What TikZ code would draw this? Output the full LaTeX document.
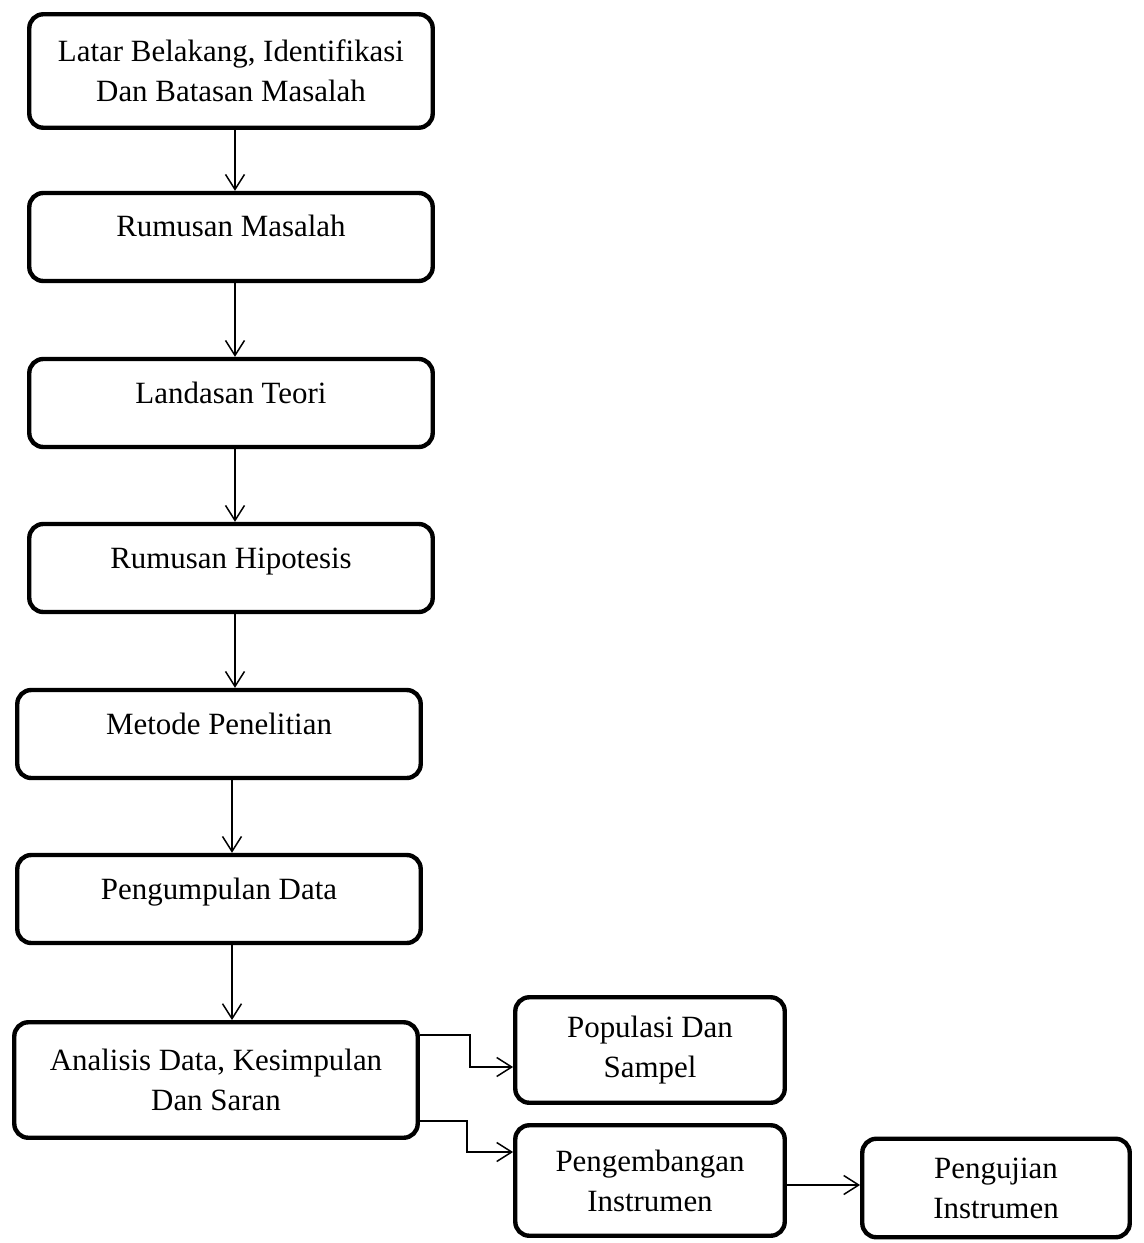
\documentclass[tikz,border=0pt]{standalone}
\usepackage{fontspec}
\setmainfont{Liberation Serif}
\usetikzlibrary{arrows.meta}

\begin{document}
\begin{tikzpicture}[x=0.02cm,y=-0.02cm]
\tikzstyle{every node}+=[inner sep=0pt, font=\fontsize{17.6}{22.7}\selectfont]
\tikzstyle{blok}=[draw, black, line width=2.5pt, rounded corners=0.28cm, align=center, minimum width=8.07cm]
\tikzstyle{blok1}=[blok, text height=0.88cm, text depth=0.88cm]
\tikzstyle{kecil}=[blok, minimum width=5.39cm]
\tikzstyle{arr}=[black, line width=0.85pt, -{Straight Barb[length=0.3cm,width=0.38cm]}]
\useasboundingbox (0,0) rectangle (1143,1243);
\node [blok, minimum height=2.27cm] (lbm) at (231,71) {Latar Belakang, Identifikasi\\Dan Batasan Masalah};
\node [blok1] (rm) at (231,237) {Rumusan Masalah};
\node [blok1] (lt) at (231,403) {Landasan Teori};
\node [blok1] (rh) at (231,568) {Rumusan Hipotesis};
\node [blok1] (mp) at (219,734) {Metode Penelitian};
\node [blok1] (pd) at (219,899) {Pengumpulan Data};
\node [blok, minimum height=2.31cm] (ad) at (216,1080) {Analisis Data, Kesimpulan\\Dan Saran};
\node [kecil, minimum height=2.11cm] (ps) at (650,1050) {Populasi Dan\\Sampel};
\node [kecil, minimum height=2.21cm] (pi) at (650,1180.5) {Pengembangan\\Instrumen};
\node [kecil, minimum width=5.35cm, minimum height=1.97cm] (uji) at (996,1188) {Pengujian\\Instrumen};
\draw [arr] ([xshift=0.08cm]lbm.south) -- ([xshift=0.08cm]lbm.south |- rm.north);
\draw [arr] ([xshift=0.08cm]rm.south) -- ([xshift=0.08cm]rm.south |- lt.north);
\draw [arr] ([xshift=0.08cm]lt.south) -- ([xshift=0.08cm]lt.south |- rh.north);
\draw [arr] ([xshift=0.08cm]rh.south) -- ([xshift=0.08cm]rh.south |- mp.north);
\draw [arr] ([xshift=0.26cm]mp.south) -- ([xshift=0.26cm]mp.south |- pd.north);
\draw [arr] ([xshift=0.26cm]pd.south) -- ([xshift=0.26cm]pd.south |- ad.north);
\draw [arr] ([yshift=0.9cm]ad.east) -- ++(50,0) |- ([yshift=-0.34cm]ps.west);
\draw [arr] ([yshift=-0.82cm]ad.east) -- ++(47,0) |- ([yshift=0.57cm]pi.west);
\draw [arr] ([yshift=-0.09cm]pi.east) -- ([yshift=-0.09cm]pi.east -| uji.west);
\end{tikzpicture}
\end{document}
